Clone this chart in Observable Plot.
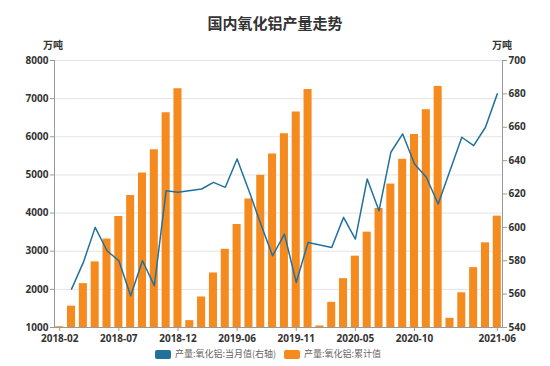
<!DOCTYPE html>
<html>
<head>
<meta charset="utf-8">
<script src="https://cdn.jsdelivr.net/npm/d3@7"></script>
<script src="https://cdn.jsdelivr.net/npm/@observablehq/plot@0.6"></script>
<style>
  body { margin: 0; background: #fff; }
  #wrap { position: relative; width: 550px; height: 366px; font-family: "Noto Sans", "Noto Sans CJK SC", sans-serif; }
  #title { position: absolute; top: 13px; left: 0; width: 550px; text-align: center; font: bold 15px "Noto Sans CJK SC", sans-serif; color: #333; line-height: 20px; z-index: 2; }
  .unit { position: absolute; top: 38px; font: bold 10px "Noto Sans CJK SC", sans-serif; color: #333; line-height: 14px; width: 30px; text-align: center; z-index: 2; }
  #chart { position: absolute; top: 36px; left: 0; z-index: 1; }
  #legend { position: absolute; top: 347px; left: 155px; display: flex; align-items: center; font: 9px "Noto Sans CJK SC", sans-serif; color: #666; line-height: 14px; z-index: 2; }
  .sw { width: 16px; height: 9px; border-radius: 2px; display: inline-block; margin-right: 4px; }
</style>
</head>
<body>
<div id="wrap">
  <div id="chart"></div>
  <div id="title">国内氧化铝产量走势</div>
  <div class="unit" style="left:38px">万吨</div>
  <div class="unit" style="left:487px">万吨</div>
  <div id="legend"></div>
</div>
<script>
// Categories (January not reported)
const months = [
  "2018-02","2018-03","2018-04","2018-05","2018-06","2018-07","2018-08","2018-09","2018-10","2018-11","2018-12",
  "2019-02","2019-03","2019-04","2019-05","2019-06","2019-07","2019-08","2019-09","2019-10","2019-11","2019-12",
  "2020-02","2020-03","2020-04","2020-05","2020-06","2020-07","2020-08","2020-09","2020-10","2020-11","2020-12",
  "2021-02","2021-03","2021-04","2021-05","2021-06"
];
// 产量:氧化铝:累计值 (left axis)
const cumulative = [
  1020, 1560, 2150, 2720, 3320, 3910, 4460, 5050, 5660, 6630, 7260,
  1180, 1800, 2430, 3050, 3700, 4370, 4990, 5550, 6080, 6650, 7240,
  1040, 1660, 2280, 2870, 3500, 4120, 4760, 5410, 6060, 6710, 7320,
  1240, 1910, 2570, 3220, 3920
];
// 产量:氧化铝:当月值 (right axis); February not reported
const monthly = [
  null, 563, 579, 600, 586, 580, 559, 580, 565, 622, 621,
  null, 623, 627, 624, 641, 622, 602, 583, 596, 567, 591,
  null, 588, 606, 593, 629, 610, 645, 656, 638, 630, 614,
  null, 654, 649, 660, 680
];
const xTickLabels = ["2018-02","2018-07","2018-12","2019-06","2019-11","2020-05","2020-10","2021-06"];
const leftTicks = [1000,2000,3000,4000,5000,6000,7000,8000];
const rightTicks = [540,560,580,600,620,640,660,680,700];
const leftDomain = [1000, 8000];
const rightDomain = [540, 700];

const seriesLine = "产量:氧化铝:当月值(右轴)";
const seriesBar = "产量:氧化铝:累计值";
const colorLine = "#21719c";
const colorBar = "#f58a1f";

// map right-axis values onto the left scale
const toLeft = v => leftDomain[0] + (v - rightDomain[0]) * (leftDomain[1] - leftDomain[0]) / (rightDomain[1] - rightDomain[0]);
const fromLeft = y => rightDomain[0] + (y - leftDomain[0]) * (rightDomain[1] - rightDomain[0]) / (leftDomain[1] - leftDomain[0]);

const bars = months.map((m, i) => ({month: m, value: cumulative[i]}));
const line = months.map((m, i) => ({month: m, value: monthly[i]})).filter(d => d.value != null);

const chart = Plot.plot({
  width: 550,
  height: 314,
  marginLeft: 54,
  marginRight: 48,
  marginTop: 24,
  marginBottom: 23,
  style: {fontFamily: "'Noto Sans', sans-serif", fontSize: "10px", color: "#333", background: "#fff", overflow: "visible"},
  x: {type: "band", domain: months, paddingInner: 0.32, paddingOuter: 0.1, label: null},
  y: {domain: leftDomain, label: null},
  marks: [
    Plot.ruleY(leftTicks, {stroke: "#e4e4e4", strokeWidth: 1}),
    Plot.barY(bars, {x: "month", y1: leftDomain[0], y2: "value", fill: colorBar}),
    Plot.line(line, {x: "month", y: d => toLeft(d.value), stroke: colorLine, strokeWidth: 1.5}),
    Plot.ruleY([leftDomain[0]], {stroke: "#999", strokeWidth: 1}),
    Plot.frame({anchor: "left", stroke: "#999"}),
    Plot.frame({anchor: "right", stroke: "#999"}),
    Plot.axisY({anchor: "left", ticks: leftTicks, tickFormat: d => String(d), tickSize: 4, tickPadding: 2, label: null, fontWeight: "bold", stroke: "#999"}),
    Plot.axisY({anchor: "right", ticks: rightTicks.map(toLeft), tickFormat: y => String(Math.round(fromLeft(y))), tickSize: 4, tickPadding: 2, label: null, fontWeight: "bold", stroke: "#999"}),
    Plot.axisX({ticks: xTickLabels, tickSize: 4, tickPadding: 3, label: null, fontWeight: "bold", stroke: "#999"})
  ]
});
document.getElementById("chart").appendChild(chart);

const legend = document.getElementById("legend");
[[seriesLine, colorLine], [seriesBar, colorBar]].forEach(([name, c], i) => {
  const item = document.createElement("span");
  item.style.display = "inline-flex";
  item.style.alignItems = "center";
  item.style.marginRight = i === 0 ? "8px" : "0";
  item.innerHTML = `<span class="sw" style="background:${c}"></span><span>${name}</span>`;
  legend.appendChild(item);
});
</script>
</body>
</html>
